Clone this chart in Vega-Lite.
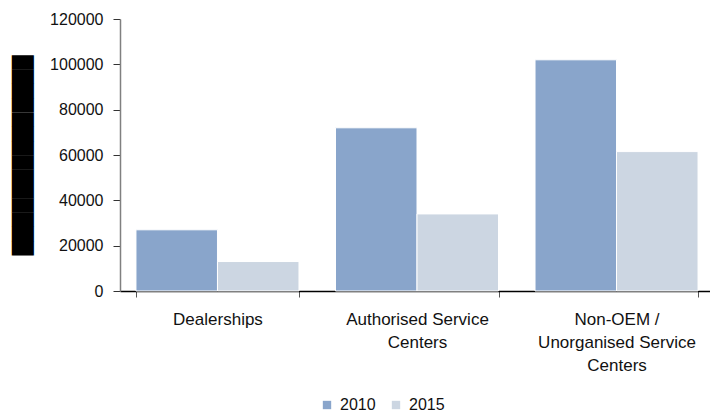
{
  "$schema": "https://vega.github.io/schema/vega-lite/v6.json",
  "width": 594,
  "height": 272,
  "autosize": {"type": "none"},
  "padding": {"left": 120, "top": 19, "right": 0, "bottom": 123},
  "background": "white",
  "config": {
    "font": "Liberation Sans",
    "view": {"stroke": null}
  },
  "data": {
    "values": [
      {"category": "Dealerships", "year": "2010", "value": 27000},
      {"category": "Dealerships", "year": "2015", "value": 13000},
      {"category": "Authorised Service Centers", "year": "2010", "value": 72000},
      {"category": "Authorised Service Centers", "year": "2015", "value": 34000},
      {"category": "Non-OEM / Unorganised Service Centers", "year": "2010", "value": 102000},
      {"category": "Non-OEM / Unorganised Service Centers", "year": "2015", "value": 61500}
    ]
  },
  "mark": {"type": "bar", "stroke": "white", "strokeWidth": 1},
  "encoding": {
    "x": {
      "field": "category",
      "type": "nominal",
      "sort": null,
      "scale": {"paddingInner": 0.183, "paddingOuter": 0.08},
      "axis": {
        "title": null,
        "labelAngle": 0,
        "labelFontSize": 17,
        "labelColor": "#111111",
        "labelLineHeight": 23,
        "labelPadding": 14,
        "labelLimit": 300,
        "tickBand": "extent",
        "tickSize": 6,
        "tickColor": "#555555",
        "domainColor": "#000000",
        "domainWidth": 1.5,
        "labelExpr": "datum.value == 'Authorised Service Centers' ? ['Authorised Service', 'Centers'] : datum.value == 'Non-OEM / Unorganised Service Centers' ? ['Non-OEM /', 'Unorganised Service', 'Centers'] : datum.value"
      }
    },
    "xOffset": {"field": "year", "type": "nominal", "scale": {"paddingInner": 0, "paddingOuter": 0}},
    "y": {
      "field": "value",
      "type": "quantitative",
      "scale": {"domain": [0, 120000]},
      "axis": {
        "title": "██████████████",
        "titleFontSize": 18.6,
        "titleFont": "DejaVu Sans",
        "titleColor": "#000000",
        "titlePadding": 17,
        "values": [0, 20000, 40000, 60000, 80000, 100000, 120000],
        "format": "d",
        "grid": false,
        "labelFontSize": 16,
        "labelColor": "#111111",
        "labelPadding": 10,
        "tickSize": 7,
        "tickColor": "#333333",
        "domainColor": "#808080",
        "domainWidth": 1.5
      }
    },
    "color": {
      "field": "year",
      "type": "nominal",
      "scale": {"domain": ["2010", "2015"], "range": ["#89a5cb", "#ccd6e2"]},
      "legend": {
        "title": null,
        "orient": "none",
        "direction": "horizontal",
        "legendX": 199,
        "legendY": 378,
        "symbolType": "square",
        "symbolSize": 70,
        "symbolStrokeWidth": 0,
        "labelFontSize": 16,
        "labelColor": "#111111",
        "labelOffset": 5,
        "columnPadding": 12
      }
    }
  }
}
